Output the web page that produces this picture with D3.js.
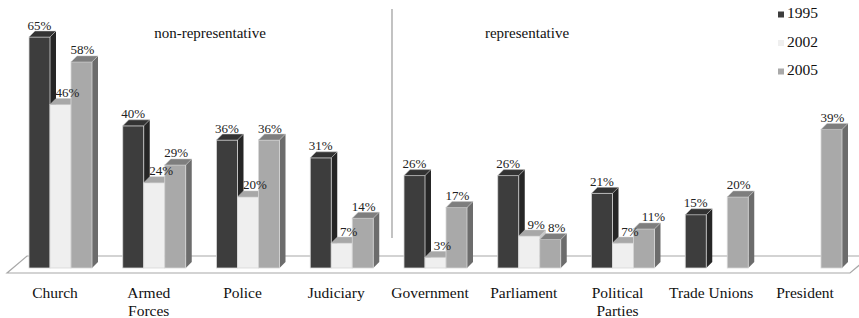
<!DOCTYPE html>
<html><head><meta charset="utf-8">
<script src="https://cdn.jsdelivr.net/npm/d3@7"></script>
<style>body{margin:0;background:#fff}svg{display:block}
text{font-family:"Liberation Serif","Times New Roman","DejaVu Serif",serif;}</style>
</head><body>
<script>
const categories = ["Church","Armed Forces","Police","Judiciary","Government","Parliament","Political Parties","Trade Unions","President"];
const categoryLines = [["Church"],["Armed","Forces"],["Police"],["Judiciary"],["Government"],["Parliament"],["Political","Parties"],["Trade Unions"],["President"]];
const series = ["1995","2002","2005"];
const values1995 = [65,40,36,31,26,26,21,15,null];
const values2002 = [46,24,20,7,3,9,7,null,null];
const values2005 = [58,29,36,14,17,8,11,20,39];
const groupTitles = ["non-representative","representative"];

const W=859,H=318;
const svg=d3.select("body").append("svg").attr("width",W).attr("height",H);

const x0=d3.scaleBand().domain(categories).range([29,29+9*93.75]).padding(0);
const x1=d3.scaleBand().domain(series).range([0,63]).padding(0);
const y=d3.scaleLinear().domain([0,65]).range([268,37]);
const dep=6;
const colors={
 "1995":{front:"#3d3d3d",side:"#262626",top:"#333333"},
 "2002":{front:"#efefef",side:"#c8c8c8",top:"#a8a8a8"},
 "2005":{front:"#a9a9a9",side:"#6c6c6c",top:"#7e7e7e"}
};
const seriesVals={"1995":values1995,"2002":values2002,"2005":values2005};

// floor
svg.append("polygon")
 .attr("points",[[27,256],[870,256],[850,273],[7,273]].map(p=>p.join(",")).join(" "))
 .attr("fill","#fff").attr("stroke","#a8a8a8").attr("stroke-width",1.2);

// divider
svg.append("line").attr("x1",392).attr("x2",392).attr("y1",9).attr("y2",238)
 .attr("stroke","#9a9a9a").attr("stroke-width",1.2);

// bars
const bars=[];
categories.forEach((c,i)=>{
 series.forEach(s=>{
  const v=seriesVals[s][i];
  if(v==null) return;
  bars.push({c,s,v});
 });
});
const bw=x1.bandwidth();
const g=svg.append("g");
bars.forEach(d=>{
 const xl=x0(d.c)+x1(d.s), xr=xl+bw, yt=y(d.v), yb=y(0);
 const col=colors[d.s];
 g.append("polygon").attr("points",[[xr,yb],[xr,yt],[xr+dep,yt-dep],[xr+dep,yb-dep]].map(p=>p.join(",")).join(" "))
  .attr("fill",col.side);
 g.append("rect").attr("x",xl).attr("y",yt).attr("width",bw).attr("height",yb-yt)
  .attr("fill",col.front).attr("stroke","#d8d8d8").attr("stroke-width",0.8);
 g.append("polygon").attr("points",[[xl,yt],[xr,yt],[xr+dep,yt-dep],[xl+dep,yt-dep]].map(p=>p.join(",")).join(" "))
  .attr("fill",col.top).attr("stroke","#c8c8c8").attr("stroke-width",0.5);
});

// value labels with simple collision nudge
const labelShift={"1995":0,"2002":7,"2005":1};
let prev=null;
bars.forEach(d=>{
 const t=svg.append("text")
  .attr("x",x0(d.c)+x1(d.s)+bw/2+labelShift[d.s])
  .attr("y",y(d.v)-7.5)
  .attr("text-anchor","middle")
  .attr("font-size",13).attr("fill","#222")
  .text(d.v+"%");
 let b=t.node().getBBox();
 if(prev && prev.c===d.c){
  const pb=prev.b;
  const hov=pb.x+pb.width+3-b.x, vov=Math.min(pb.y+pb.height,b.y+b.height)-Math.max(pb.y,b.y);
  if(hov>0 && vov>0){
   t.attr("x",+t.attr("x")+hov);
   b=t.node().getBBox();
  }
 }
 prev={c:d.c,b};
});

// category labels
categories.forEach((c,i)=>{
 const t=svg.append("text").attr("x",x0(c)+26).attr("y",298)
  .attr("text-anchor","middle").attr("font-size",15.5).attr("fill","#111");
 categoryLines[i].forEach((line,j)=>{
  t.append("tspan").attr("x",x0(c)+26).attr("dy",j===0?0:18).text(line);
 });
});

// group titles
svg.append("text").attr("x",210).attr("y",38).attr("text-anchor","middle")
 .attr("font-size",15).attr("fill","#111").text(groupTitles[0]);
svg.append("text").attr("x",527).attr("y",38).attr("text-anchor","middle")
 .attr("font-size",15).attr("fill","#111").text(groupTitles[1]);

// legend
series.forEach((s,i)=>{
 const ly=18+i*28.5;
 svg.append("rect").attr("x",778).attr("y",ly-6.5).attr("width",6).attr("height",6).attr("fill",colors[s].front);
 svg.append("text").attr("x",787).attr("y",ly).attr("font-size",15.5).attr("fill","#111").text(s);
});
</script>
</body></html>
